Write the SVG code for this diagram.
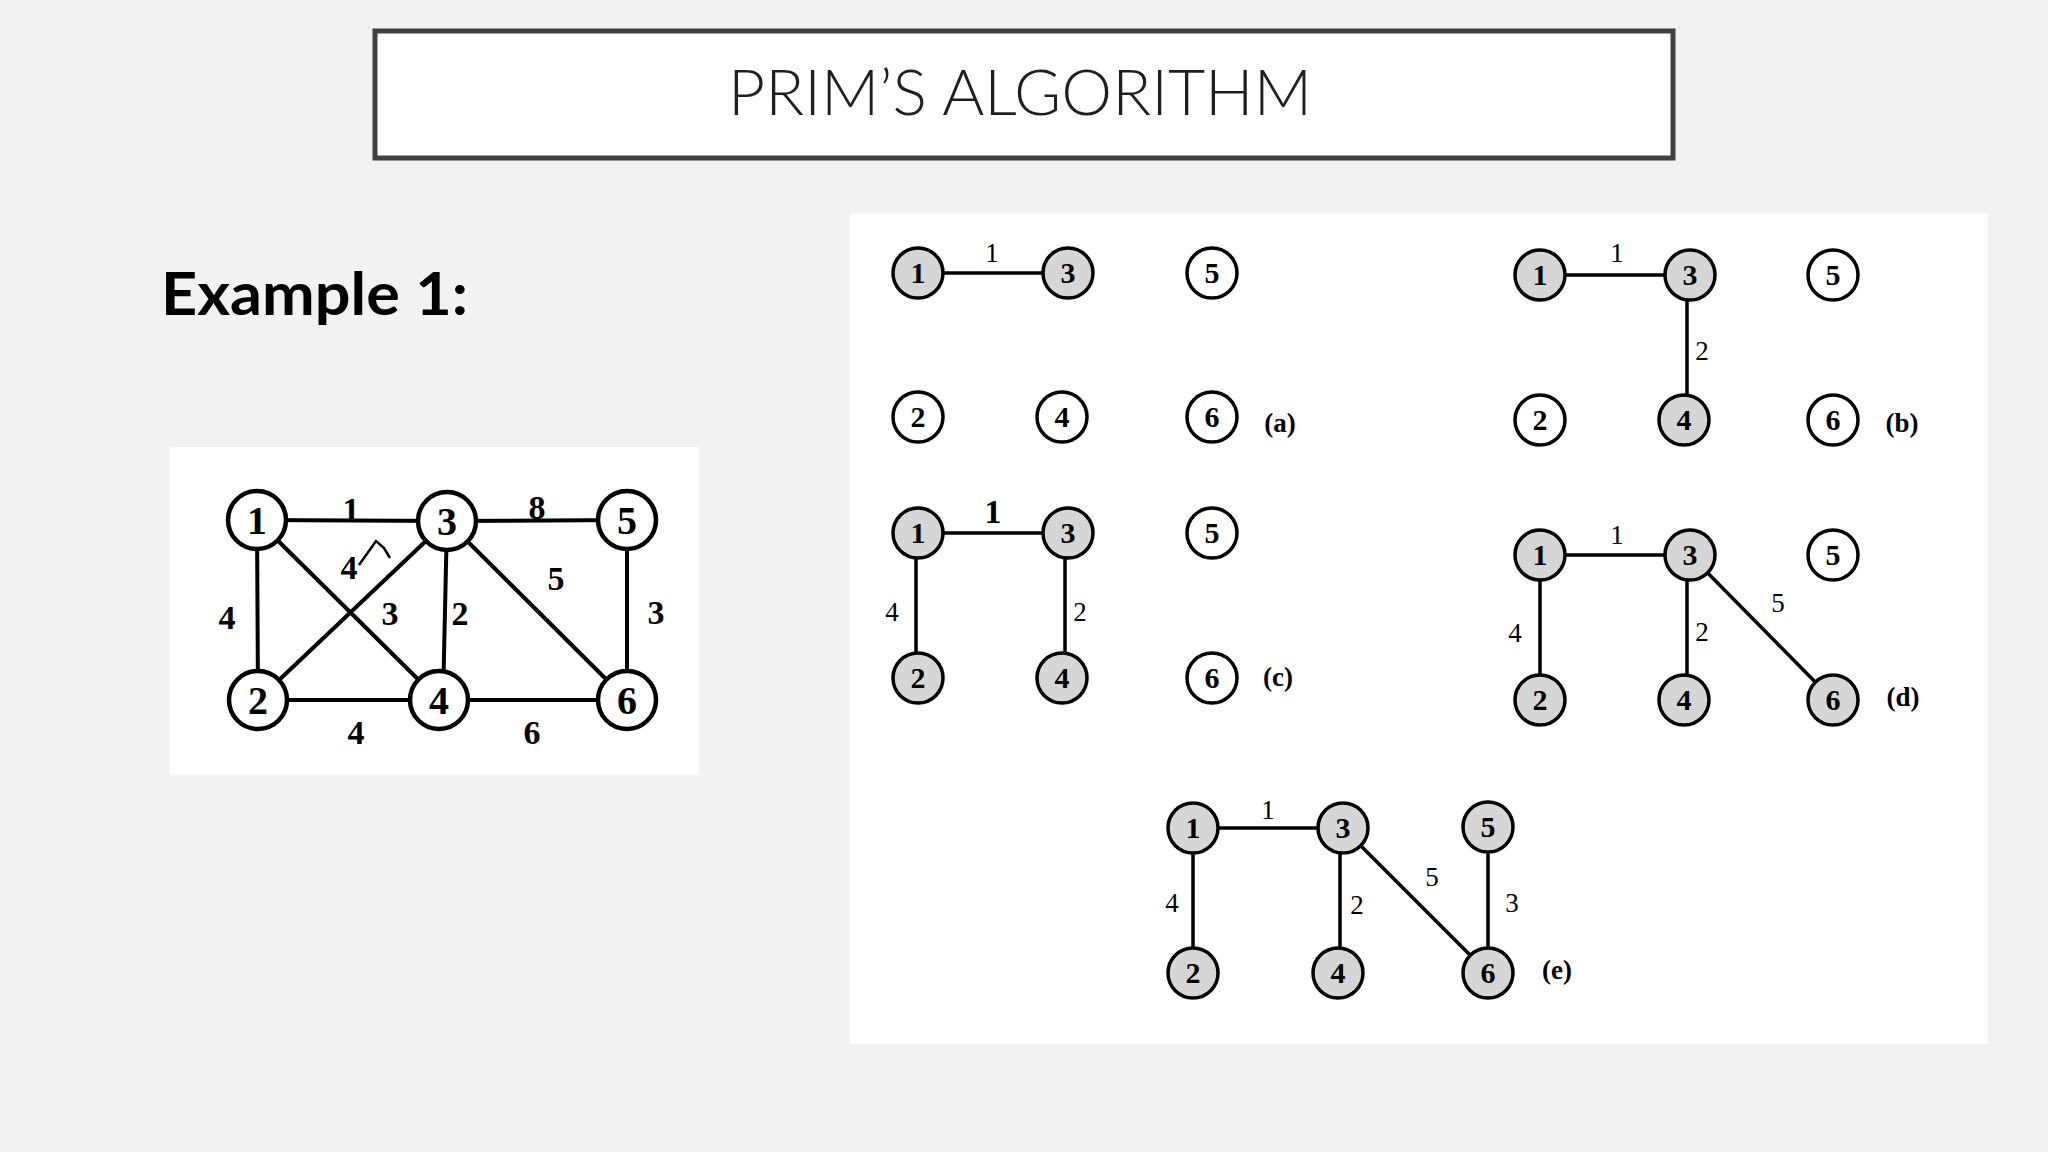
<svg xmlns="http://www.w3.org/2000/svg" width="2048" height="1152" viewBox="0 0 2048 1152">
<style>
.bg{fill:#f2f2f2}
.panel{fill:#ffffff}
.title{font-family:Lato,"Open Sans",sans-serif;font-weight:300;font-size:64px;fill:#1f1f1f;text-anchor:middle}
.ex{font-family:Lato,"Open Sans",sans-serif;font-weight:bold;font-size:60px;fill:#000}
.big circle{fill:#fff;stroke:#000;stroke-width:4.5}
.big text{font-family:"Liberation Serif",serif;font-weight:bold;font-size:40px;text-anchor:middle;fill:#000}
.sm circle{fill:#fff;stroke:#000;stroke-width:3.5}
.sm.on circle{fill:#d6d6d6}
.sm text{font-family:"Liberation Serif",serif;font-weight:bold;font-size:30px;text-anchor:middle;fill:#000}
.e{stroke:#000;stroke-width:4;fill:none}
.es{stroke:#000;stroke-width:3.5;fill:none}
.lb{font-family:"Liberation Serif",serif;font-weight:bold;font-size:34px;text-anchor:middle;fill:#000}
.ls{font-family:"Liberation Serif",serif;font-size:27px;text-anchor:middle;fill:#000}
.tag{font-family:"Liberation Serif",serif;font-weight:bold;font-size:27px;text-anchor:middle;fill:#000}
</style>
<rect class="bg" x="0" y="0" width="2048" height="1152"/>

<g id="title">
<rect x="375" y="31" width="1298" height="127" fill="#fff" stroke="#404040" stroke-width="5"/>
<text class="title" x="1020" y="115" textLength="584" lengthAdjust="spacingAndGlyphs">PRIM’S ALGORITHM</text>
</g>

<g id="example-label">
<text class="ex" x="161" y="315" textLength="307" lengthAdjust="spacingAndGlyphs">Example 1:</text>
</g>

<rect class="panel" x="170" y="447" width="529" height="328"/>
<rect class="panel" x="850" y="213" width="1138" height="831"/>

<!-- Connectors -->
<g id="connectors">
  <!-- original graph -->
  <line class="e" x1="257" y1="520" x2="447" y2="521" stroke-width="5"/>
  <line class="e" x1="447" y1="521" x2="627" y2="520" stroke-width="5"/>
  <line class="e" x1="257" y1="520" x2="258" y2="700"/>
  <line class="e" x1="257" y1="520" x2="439" y2="700"/>
  <line class="e" x1="258" y1="700" x2="447" y2="521"/>
  <line class="e" x1="447" y1="521" x2="443" y2="700"/>
  <line class="e" x1="447" y1="521" x2="627" y2="700"/>
  <line class="e" x1="627" y1="520" x2="627" y2="700"/>
  <line class="e" x1="258" y1="700" x2="439" y2="700"/>
  <line class="e" x1="439" y1="700" x2="627" y2="700" stroke-width="5"/>
  <polyline points="359,565 376,541 384,548 390,558" fill="none" stroke="#000" stroke-width="2.5"/>
  <text class="lb" x="351" y="521">1</text>
  <text class="lb" x="537" y="519">8</text>
  <text class="lb" x="227" y="629">4</text>
  <text class="lb" x="349" y="579">4</text>
  <text class="lb" x="390" y="625">3</text>
  <text class="lb" x="460" y="625">2</text>
  <text class="lb" x="556" y="590">5</text>
  <text class="lb" x="656" y="624">3</text>
  <text class="lb" x="356" y="744">4</text>
  <text class="lb" x="532" y="744">6</text>

  <!-- (a) -->
  <line class="es" x1="918" y1="273" x2="1068" y2="273" stroke-width="4.5"/>
  <text class="ls" x="992" y="262">1</text>
  <!-- (b) -->
  <line class="es" x1="1540" y1="275" x2="1690" y2="275" stroke-width="4.5"/>
  <line class="es" x1="1687" y1="275" x2="1687" y2="420"/>
  <text class="ls" x="1617" y="262">1</text>
  <text class="ls" x="1702" y="360">2</text>
  <!-- (c) -->
  <line class="es" x1="918" y1="533" x2="1068" y2="533"/>
  <line class="es" x1="916" y1="533" x2="916" y2="678"/>
  <line class="es" x1="1065" y1="533" x2="1065" y2="678"/>
  <text class="lb" x="993" y="523" font-size="28">1</text>
  <text class="ls" x="892" y="621">4</text>
  <text class="ls" x="1080" y="621">2</text>
  <!-- (d) -->
  <line class="es" x1="1540" y1="555" x2="1690" y2="555"/>
  <line class="es" x1="1540" y1="555" x2="1540" y2="700"/>
  <line class="es" x1="1687" y1="555" x2="1687" y2="700"/>
  <line class="es" x1="1690" y1="555" x2="1833" y2="700"/>
  <text class="ls" x="1617" y="544">1</text>
  <text class="ls" x="1515" y="642">4</text>
  <text class="ls" x="1702" y="641">2</text>
  <text class="ls" x="1778" y="612">5</text>
  <!-- (e) -->
  <line class="es" x1="1193" y1="828" x2="1343" y2="828" stroke-width="4.5"/>
  <line class="es" x1="1193" y1="828" x2="1193" y2="973"/>
  <line class="es" x1="1340" y1="828" x2="1340" y2="973"/>
  <line class="es" x1="1343" y1="828" x2="1488" y2="973"/>
  <line class="es" x1="1488" y1="827" x2="1488" y2="973"/>
  <text class="ls" x="1268" y="819">1</text>
  <text class="ls" x="1172" y="912">4</text>
  <text class="ls" x="1357" y="914">2</text>
  <text class="ls" x="1432" y="886">5</text>
  <text class="ls" x="1512" y="912">3</text>
</g>

<!-- Original graph nodes -->
<g id="g-n1" class="big"><circle cx="257" cy="520" r="29"/><text x="257" y="534">1</text></g>
<g id="g-n3" class="big"><circle cx="447" cy="521" r="29"/><text x="447" y="535">3</text></g>
<g id="g-n5" class="big"><circle cx="627" cy="520" r="29"/><text x="627" y="534">5</text></g>
<g id="g-n2" class="big"><circle cx="258" cy="700" r="29"/><text x="258" y="714">2</text></g>
<g id="g-n4" class="big"><circle cx="439" cy="700" r="29"/><text x="439" y="714">4</text></g>
<g id="g-n6" class="big"><circle cx="627" cy="700" r="29"/><text x="627" y="714">6</text></g>

<!-- (a) -->
<g id="a-n1" class="sm on"><circle cx="918" cy="273" r="25"/><text x="918" y="283">1</text></g>
<g id="a-n3" class="sm on"><circle cx="1068" cy="273" r="25"/><text x="1068" y="283">3</text></g>
<g id="a-n5" class="sm"><circle cx="1212" cy="273" r="25"/><text x="1212" y="283">5</text></g>
<g id="a-n2" class="sm"><circle cx="918" cy="417" r="25"/><text x="918" y="427">2</text></g>
<g id="a-n4" class="sm"><circle cx="1062" cy="417" r="25"/><text x="1062" y="427">4</text></g>
<g id="a-n6" class="sm"><circle cx="1212" cy="417" r="25"/><text x="1212" y="427">6</text></g>
<g id="a-tag"><text class="tag" x="1280" y="432">(a)</text></g>

<!-- (b) -->
<g id="b-n1" class="sm on"><circle cx="1540" cy="275" r="25"/><text x="1540" y="285">1</text></g>
<g id="b-n3" class="sm on"><circle cx="1690" cy="275" r="25"/><text x="1690" y="285">3</text></g>
<g id="b-n5" class="sm"><circle cx="1833" cy="275" r="25"/><text x="1833" y="285">5</text></g>
<g id="b-n2" class="sm"><circle cx="1540" cy="420" r="25"/><text x="1540" y="430">2</text></g>
<g id="b-n4" class="sm on"><circle cx="1684" cy="420" r="25"/><text x="1684" y="430">4</text></g>
<g id="b-n6" class="sm"><circle cx="1833" cy="420" r="25"/><text x="1833" y="430">6</text></g>
<g id="b-tag"><text class="tag" x="1902" y="432">(b)</text></g>

<!-- (c) -->
<g id="c-n1" class="sm on"><circle cx="918" cy="533" r="25"/><text x="918" y="543">1</text></g>
<g id="c-n3" class="sm on"><circle cx="1068" cy="533" r="25"/><text x="1068" y="543">3</text></g>
<g id="c-n5" class="sm"><circle cx="1212" cy="533" r="25"/><text x="1212" y="543">5</text></g>
<g id="c-n2" class="sm on"><circle cx="918" cy="678" r="25"/><text x="918" y="688">2</text></g>
<g id="c-n4" class="sm on"><circle cx="1062" cy="678" r="25"/><text x="1062" y="688">4</text></g>
<g id="c-n6" class="sm"><circle cx="1212" cy="678" r="25"/><text x="1212" y="688">6</text></g>
<g id="c-tag"><text class="tag" x="1278" y="686">(c)</text></g>

<!-- (d) -->
<g id="d-n1" class="sm on"><circle cx="1540" cy="555" r="25"/><text x="1540" y="565">1</text></g>
<g id="d-n3" class="sm on"><circle cx="1690" cy="555" r="25"/><text x="1690" y="565">3</text></g>
<g id="d-n5" class="sm"><circle cx="1833" cy="555" r="25"/><text x="1833" y="565">5</text></g>
<g id="d-n2" class="sm on"><circle cx="1540" cy="700" r="25"/><text x="1540" y="710">2</text></g>
<g id="d-n4" class="sm on"><circle cx="1684" cy="700" r="25"/><text x="1684" y="710">4</text></g>
<g id="d-n6" class="sm on"><circle cx="1833" cy="700" r="25"/><text x="1833" y="710">6</text></g>
<g id="d-tag"><text class="tag" x="1903" y="706">(d)</text></g>

<!-- (e) -->
<g id="e-n1" class="sm on"><circle cx="1193" cy="828" r="25"/><text x="1193" y="838">1</text></g>
<g id="e-n3" class="sm on"><circle cx="1343" cy="828" r="25"/><text x="1343" y="838">3</text></g>
<g id="e-n5" class="sm on"><circle cx="1488" cy="827" r="25"/><text x="1488" y="837">5</text></g>
<g id="e-n2" class="sm on"><circle cx="1193" cy="973" r="25"/><text x="1193" y="983">2</text></g>
<g id="e-n4" class="sm on"><circle cx="1338" cy="973" r="25"/><text x="1338" y="983">4</text></g>
<g id="e-n6" class="sm on"><circle cx="1488" cy="973" r="25"/><text x="1488" y="983">6</text></g>
<g id="e-tag"><text class="tag" x="1557" y="979">(e)</text></g>
</svg>
